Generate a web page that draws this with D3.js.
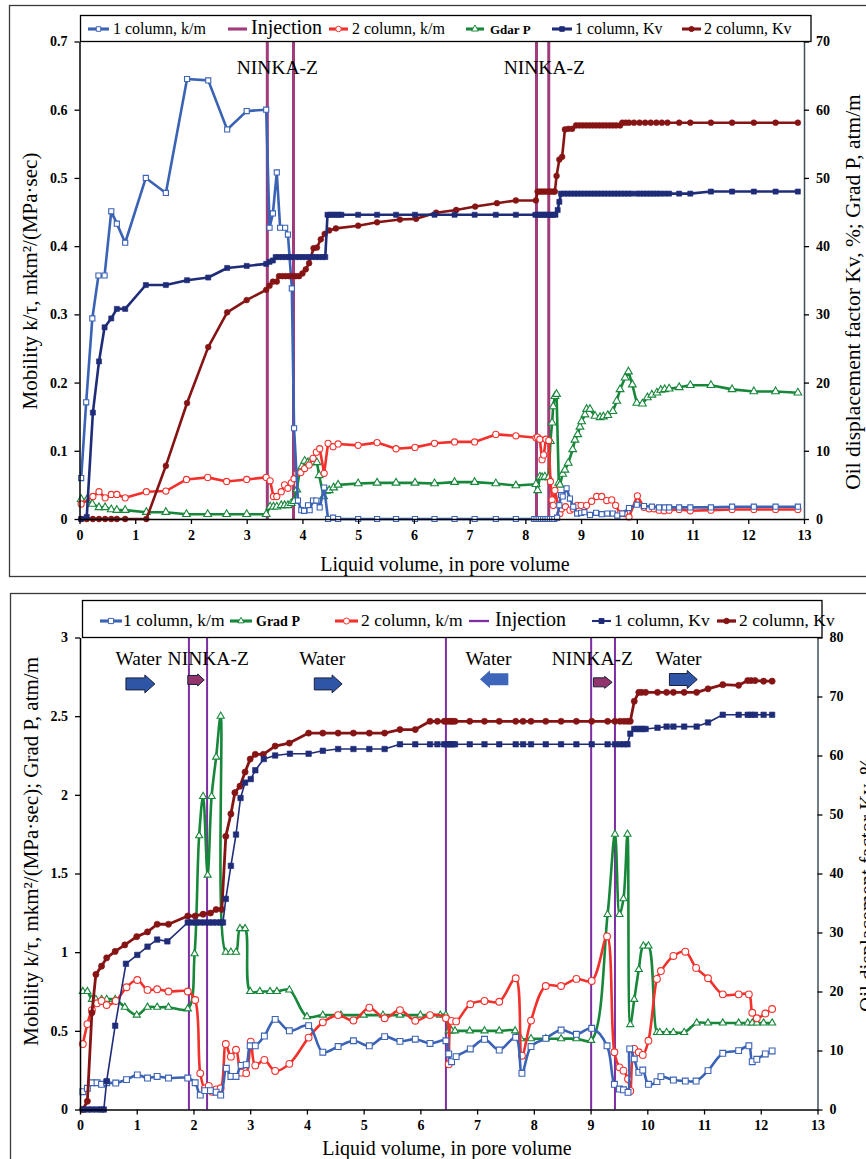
<!DOCTYPE html>
<html>
<head>
<meta charset="utf-8">
<script src="https://cdn.jsdelivr.net/npm/d3@7"></script>
<style>
  body { margin: 0; background: #fff; }
  svg text { font-family: "Liberation Serif", "Times New Roman", serif; fill: #000; }
</style>
</head>
<body>
<div id="chart"></div>
<script>
// ---------- data: upper chart ([liquid volume, value]) ----------
const topKmCol1 = [[0.03,0.06],[0.12,0.171],[0.23,0.294],[0.34,0.357],[0.45,0.357],[0.57,0.451],[0.67,0.433],[0.82,0.405],[1.19,0.5],[1.55,0.478],[1.93,0.645],[2.31,0.643],[2.65,0.571],[3.0,0.598],[3.35,0.6],[3.41,0.427],[3.47,0.448],[3.54,0.508],[3.6,0.427],[3.69,0.427],[3.74,0.417],[3.81,0.338],[3.85,0.133],[3.92,0.027],[3.98,0.013],[4.03,0.012],[4.1,0.02],[4.13,0.013],[4.19,0.027],[4.25,0.027],[4.31,0.017],[4.39,0.046],[4.46,0],[4.55,0.002],[4.64,0],[5.0,0],[5.34,0],[5.68,0],[6.02,0],[6.37,0],[6.73,0],[7.09,0],[7.47,0],[7.83,0],[8.16,0],[8.2,0],[8.24,0],[8.28,0],[8.32,0],[8.36,0],[8.4,0],[8.44,0],[8.48,0],[8.52,0],[8.57,0.002],[8.61,0.02],[8.64,0.035],[8.67,0.033],[8.74,0.045],[8.8,0.03],[8.86,0.018],[8.93,0.008],[9.0,0.009],[9.06,0.01],[9.16,0.006],[9.27,0.009],[9.37,0.007],[9.47,0.008],[9.57,0.008],[9.65,0.005],[9.74,0.008],[9.86,0.016],[10.0,0.021],[10.13,0.019],[10.27,0.018],[10.4,0.017],[10.5,0.017],[10.58,0.017],[10.76,0.017],[10.96,0.017],[11.33,0.017],[11.71,0.018],[12.1,0.018],[12.49,0.018],[12.89,0.018]];

const topKmCol2 = [[0.03,0.022],[0.24,0.033],[0.35,0.04],[0.46,0.031],[0.57,0.036],[0.67,0.036],[0.82,0.031],[1.2,0.04],[1.55,0.041],[1.92,0.058],[2.3,0.061],[2.64,0.055],[3.0,0.058],[3.35,0.061],[3.42,0.056],[3.48,0.033],[3.54,0.033],[3.62,0.04],[3.68,0.05],[3.74,0.045],[3.8,0.053],[3.85,0.059],[3.9,0.067],[3.97,0.068],[4.04,0.074],[4.12,0.079],[4.19,0.089],[4.25,0.098],[4.31,0.103],[4.39,0.067],[4.46,0.111],[4.55,0.106],[4.64,0.11],[5.0,0.108],[5.34,0.112],[5.68,0.103],[6.02,0.105],[6.37,0.111],[6.73,0.113],[7.09,0.113],[7.47,0.124],[7.83,0.122],[8.19,0.119],[8.22,0.12],[8.26,0.117],[8.3,0.087],[8.33,0.094],[8.37,0.117],[8.42,0.115],[8.45,0.055],[8.48,0.028],[8.5,0.02],[8.53,0.042],[8.62,0.008],[8.65,0.015],[8.72,0.018],[8.8,0.013],[8.86,0.015],[8.93,0.02],[9.0,0.02],[9.1,0.02],[9.19,0.026],[9.28,0.033],[9.37,0.033],[9.46,0.027],[9.55,0.028],[9.62,0.02],[9.7,0.008],[9.78,0.008],[9.86,0.003],[10.01,0.034],[10.13,0.017],[10.22,0.015],[10.31,0.015],[10.4,0.013],[10.49,0.012],[10.58,0.013],[10.76,0.014],[10.96,0.012],[11.33,0.013],[11.71,0.014],[12.1,0.014],[12.49,0.014],[12.89,0.014]];

// right axis (atm/m shown on the 0-70 scale)
const topGradP = [[0.03,2.9],[0.13,2.8],[0.23,2.2],[0.35,1.7],[0.46,1.7],[0.57,1.4],[0.67,1.3],[0.82,1.3],[1.2,1.0],[1.55,1.0],[1.92,0.7],[2.3,0.7],[2.64,0.7],[3.0,0.7],[3.35,0.7],[3.42,1.8],[3.48,1.8],[3.54,1.8],[3.62,2.0],[3.68,2.0],[3.74,2.0],[3.8,2.3],[3.85,2.6],[3.9,4.3],[3.95,7.0],[3.99,7.7],[4.04,8.5],[4.1,8.3],[4.14,8.3],[4.2,8.3],[4.26,8.3],[4.3,6.4],[4.38,3.3],[4.43,4.1],[4.48,4.2],[4.56,4.6],[4.64,5.0],[5.0,5.2],[5.34,5.3],[5.68,5.3],[6.02,5.3],[6.37,5.2],[6.73,5.4],[7.09,5.4],[7.47,5.2],[7.83,4.9],[8.19,5.1],[8.22,4.2],[8.26,6.2],[8.3,6.1],[8.35,6.2],[8.42,6.1],[8.45,11.4],[8.48,14.1],[8.5,16.5],[8.53,18.0],[8.56,18.3],[8.6,5.3],[8.62,5.0],[8.67,6.6],[8.71,7.2],[8.77,8.2],[8.85,10.2],[8.89,11.6],[8.94,12.4],[8.98,13.5],[9.01,14.3],[9.07,15.3],[9.1,16.1],[9.16,16.1],[9.25,15.1],[9.34,14.9],[9.4,15.0],[9.48,15.2],[9.57,15.8],[9.64,17.3],[9.7,19.0],[9.79,20.7],[9.85,21.6],[9.92,19.7],[10.0,17.0],[10.1,16.9],[10.19,17.8],[10.27,18.2],[10.36,18.5],[10.43,18.9],[10.5,19.0],[10.58,19.1],[10.76,19.3],[10.96,19.6],[11.33,19.6],[11.71,19.0],[12.1,18.7],[12.49,18.7],[12.89,18.5]];

const topKvCol1 = [[0.03,0],[0.13,0.3],[0.24,15.6],[0.35,23.1],[0.45,28.1],[0.57,29.4],[0.67,30.8],[0.82,30.8],[1.19,34.3],[1.55,34.3],[1.93,35.0],[2.31,35.4],[2.65,36.8],[3.0,37.1],[3.35,37.4],[3.41,37.7],[3.47,37.9],[3.52,38.4],[3.58,38.4],[3.64,38.4],[3.7,38.4],[3.76,38.4],[3.82,38.4],[3.88,38.4],[3.94,38.4],[4.0,38.4],[4.06,38.4],[4.12,38.4],[4.18,38.4],[4.24,38.4],[4.3,38.4],[4.36,38.4],[4.41,38.4],[4.45,44.6],[4.5,44.6],[4.55,44.6],[4.6,44.6],[4.65,44.6],[4.7,44.6],[5.0,44.6],[5.34,44.6],[5.68,44.6],[6.02,44.6],[6.37,44.6],[6.73,44.6],[7.09,44.6],[7.47,44.6],[7.83,44.6],[8.18,44.6],[8.22,44.6],[8.26,44.6],[8.3,44.6],[8.34,44.6],[8.38,44.6],[8.42,44.6],[8.46,44.6],[8.5,44.6],[8.54,44.6],[8.58,45.3],[8.61,46.5],[8.64,47.7],[8.7,47.7],[8.76,47.7],[8.82,47.7],[8.88,47.7],[8.94,47.7],[9.0,47.7],[9.06,47.7],[9.12,47.7],[9.18,47.7],[9.24,47.7],[9.3,47.7],[9.36,47.7],[9.42,47.7],[9.48,47.7],[9.54,47.7],[9.6,47.7],[9.66,47.7],[9.72,47.7],[9.78,47.7],[9.84,47.7],[9.9,47.7],[10.0,47.7],[10.06,47.7],[10.12,47.7],[10.18,47.7],[10.24,47.7],[10.3,47.7],[10.36,47.7],[10.42,47.7],[10.5,47.7],[10.58,47.7],[10.76,47.7],[10.96,47.7],[11.33,48.0],[11.71,48.0],[12.1,48.0],[12.49,48.0],[12.89,48.0]];

const topKvCol2 = [[0.03,0],[0.13,0],[0.24,0],[0.35,0],[0.46,0],[0.57,0],[0.67,0],[0.82,0],[1.2,0],[1.55,7.8],[1.93,17.0],[2.31,25.2],[2.65,30.3],[3.0,32.1],[3.35,33.6],[3.41,34.2],[3.47,34.8],[3.54,34.8],[3.58,35.6],[3.64,35.6],[3.7,35.6],[3.76,35.6],[3.82,35.6],[3.88,35.6],[3.94,35.6],[4.0,36.0],[4.06,36.6],[4.12,37.5],[4.2,39.7],[4.26,39.8],[4.33,41.0],[4.4,41.8],[4.48,42.3],[4.6,42.6],[5.0,43.0],[5.34,43.5],[5.75,43.9],[6.04,44.0],[6.4,44.9],[6.76,45.3],[7.1,45.8],[7.49,46.3],[7.83,46.7],[8.19,46.7],[8.22,48.0],[8.26,48.0],[8.3,48.0],[8.34,48.0],[8.38,48.0],[8.42,48.0],[8.46,48.0],[8.5,48.0],[8.53,48.0],[8.56,50.3],[8.61,52.7],[8.66,53.1],[8.71,57.1],[8.77,57.2],[8.84,57.2],[8.91,57.7],[8.97,57.7],[9.03,57.7],[9.09,57.7],[9.15,57.7],[9.21,57.7],[9.27,57.7],[9.33,57.7],[9.39,57.7],[9.45,57.7],[9.51,57.7],[9.57,57.7],[9.63,57.7],[9.7,57.7],[9.74,58.1],[9.8,58.1],[9.86,58.1],[9.95,58.1],[10.05,58.1],[10.15,58.1],[10.25,58.1],[10.35,58.1],[10.45,58.1],[10.55,58.1],[10.76,58.1],[10.96,58.1],[11.33,58.1],[11.71,58.1],[12.1,58.1],[12.49,58.1],[12.89,58.1]];

const topInjection = [3.37, 3.84, 8.2, 8.42];
const topNotes = [{ text: "NINKA-Z", x: 3.55, y: 0.652 }, { text: "NINKA-Z", x: 8.34, y: 0.652 }];

// ---------- data: lower chart ----------
const botKmCol1 = [[0.05,0.113],[0.13,0.135],[0.21,0.17],[0.3,0.17],[0.38,0.16],[0.47,0.17],[0.63,0.168],[0.82,0.19],[1.01,0.22],[1.19,0.2],[1.36,0.21],[1.56,0.2],[1.9,0.2],[2.03,0.17],[2.12,0.092],[2.2,0.12],[2.3,0.12],[2.4,0.11],[2.48,0.092],[2.58,0.262],[2.66,0.21],[2.75,0.21],[2.84,0.28],[2.93,0.285],[3.0,0.405],[3.09,0.405],[3.25,0.467],[3.44,0.573],[3.69,0.5],[4.03,0.533],[4.28,0.364],[4.55,0.4],[4.82,0.437],[5.1,0.405],[5.37,0.463],[5.64,0.433],[5.91,0.447],[6.17,0.42],[6.45,0.437],[6.5,0.353],[6.55,0.304],[6.63,0.336],[6.88,0.385],[7.13,0.446],[7.39,0.378],[7.68,0.459],[7.79,0.23],[7.95,0.4],[8.21,0.452],[8.48,0.505],[8.75,0.478],[9.02,0.516],[9.29,0.405],[9.42,0.16],[9.51,0.13],[9.58,0.125],[9.66,0.109],[9.69,0.385],[9.77,0.321],[9.85,0.236],[9.92,0.251],[10.02,0.16],[10.17,0.177],[10.24,0.209],[10.46,0.187],[10.67,0.181],[10.86,0.181],[11.07,0.247],[11.33,0.357],[11.61,0.374],[11.79,0.405],[11.85,0.304],[11.93,0.319],[12.08,0.353],[12.2,0.372]];

const botKmCol2 = [[0.05,0.416],[0.13,0.543],[0.21,0.632],[0.3,0.675],[0.38,0.69],[0.47,0.664],[0.63,0.69],[0.82,0.777],[1.01,0.823],[1.19,0.76],[1.36,0.764],[1.56,0.75],[1.9,0.75],[2.03,0.696],[2.12,0.23],[2.2,0.135],[2.27,0.15],[2.33,0.113],[2.4,0.128],[2.48,0.135],[2.57,0.416],[2.66,0.336],[2.75,0.38],[2.84,0.234],[2.93,0.23],[3.01,0.431],[3.09,0.28],[3.25,0.315],[3.44,0.245],[3.69,0.29],[4.03,0.457],[4.28,0.554],[4.55,0.6],[4.82,0.566],[5.1,0.647],[5.37,0.58],[5.64,0.632],[5.91,0.564],[6.17,0.6],[6.45,0.58],[6.5,0.287],[6.55,0.563],[6.63,0.56],[6.88,0.669],[7.13,0.69],[7.39,0.685],[7.68,0.834],[7.79,0.342],[7.95,0.565],[8.21,0.785],[8.48,0.785],[8.75,0.83],[9.02,0.817],[9.29,1.1],[9.42,0.364],[9.51,0.268],[9.58,0.247],[9.66,0.194],[9.7,0.118],[9.77,0.385],[9.85,0.364],[9.92,0.347],[10.02,0.437],[10.17,0.83],[10.24,0.88],[10.46,0.976],[10.67,1.003],[10.86,0.9],[11.07,0.834],[11.33,0.732],[11.61,0.732],[11.79,0.732],[11.85,0.615],[11.93,0.58],[12.08,0.61],[12.2,0.639]];

const botGradP = [[0.05,0.75],[0.13,0.75],[0.21,0.7],[0.28,0.7],[0.38,0.7],[0.47,0.7],[0.62,0.7],[0.79,0.65],[1.0,0.6],[1.19,0.65],[1.36,0.65],[1.56,0.65],[1.9,0.64],[2.02,0.99],[2.1,1.74],[2.17,1.99],[2.25,1.49],[2.32,1.99],[2.4,2.24],[2.48,2.5],[2.57,1.0],[2.66,1.0],[2.75,1.0],[2.82,1.15],[2.91,1.15],[3.0,0.75],[3.17,0.75],[3.35,0.75],[3.47,0.75],[3.69,0.76],[4.0,0.59],[4.28,0.6],[4.6,0.6],[5.0,0.6],[5.34,0.6],[5.64,0.6],[6.0,0.6],[6.35,0.6],[6.45,0.6],[6.5,0.5],[6.55,0.5],[6.61,0.5],[6.87,0.5],[7.13,0.5],[7.39,0.5],[7.67,0.5],[7.77,0.45],[7.95,0.45],[8.21,0.45],[8.48,0.45],[8.75,0.45],[9.01,0.44],[9.3,1.24],[9.43,1.75],[9.51,1.24],[9.58,1.34],[9.65,1.75],[9.7,0.54],[9.77,0.7],[9.85,0.89],[9.93,1.04],[10.02,1.04],[10.17,0.49],[10.22,0.49],[10.34,0.49],[10.46,0.49],[10.65,0.49],[10.87,0.55],[11.07,0.55],[11.33,0.55],[11.61,0.55],[11.77,0.55],[11.85,0.55],[11.93,0.55],[12.05,0.55],[12.2,0.55]];

const botKvCol1 = [[0.05,0],[0.13,0],[0.21,0],[0.3,0],[0.38,0],[0.42,0],[0.47,4.8],[0.62,14.2],[0.81,24.7],[1.01,26.2],[1.19,27.6],[1.36,28.8],[1.54,28.5],[1.9,31.7],[1.98,31.7],[2.05,31.7],[2.12,31.7],[2.2,31.7],[2.27,31.7],[2.34,31.7],[2.41,31.7],[2.48,31.7],[2.52,31.7],[2.57,35.7],[2.66,41.3],[2.75,46.6],[2.83,52.8],[2.91,55.4],[3.01,56.0],[3.09,57.5],[3.24,59.4],[3.44,60.0],[3.7,60.3],[4.03,60.3],[4.28,60.8],[4.55,61.1],[4.82,61.1],[5.1,61.1],[5.37,61.1],[5.64,61.9],[5.91,61.9],[6.17,61.9],[6.3,61.9],[6.42,61.9],[6.46,61.9],[6.5,61.9],[6.54,61.9],[6.57,61.9],[6.61,61.9],[6.87,61.9],[7.13,61.9],[7.39,61.9],[7.68,61.9],[7.81,61.9],[7.95,61.9],[8.21,61.9],[8.48,61.9],[8.75,61.9],[9.02,61.9],[9.3,61.9],[9.43,61.9],[9.52,61.9],[9.59,61.9],[9.65,61.9],[9.7,63.7],[9.77,64.5],[9.82,64.5],[9.87,64.5],[9.92,64.5],[9.97,64.5],[10.18,64.7],[10.34,64.9],[10.46,64.9],[10.65,64.9],[10.87,64.9],[11.07,65.6],[11.33,66.9],[11.61,66.9],[11.77,66.9],[11.83,66.9],[11.9,66.9],[12.05,66.9],[12.2,66.9]];

const botKvCol2 = [[0.05,0],[0.13,1.4],[0.21,16.4],[0.28,22.9],[0.38,24.3],[0.47,25.7],[0.62,26.8],[0.79,27.9],[1.0,29.3],[1.19,30.1],[1.36,31.4],[1.56,31.4],[1.9,32.8],[2.03,32.8],[2.17,33.1],[2.3,33.3],[2.4,33.9],[2.5,33.9],[2.57,46.3],[2.66,50.1],[2.73,53.7],[2.82,54.8],[2.91,57.2],[3.0,59.4],[3.09,60.2],[3.23,60.2],[3.44,61.6],[3.69,62.1],[4.03,63.8],[4.28,63.8],[4.55,63.8],[4.82,63.8],[5.1,63.8],[5.37,63.8],[5.64,64.4],[5.91,64.4],[6.17,65.8],[6.3,65.8],[6.42,65.8],[6.46,65.8],[6.5,65.8],[6.54,65.8],[6.57,65.8],[6.61,65.8],[6.87,65.8],[7.13,65.8],[7.39,65.8],[7.68,65.8],[7.81,65.8],[7.95,65.8],[8.21,65.8],[8.48,65.8],[8.75,65.8],[9.02,65.8],[9.3,65.8],[9.43,65.8],[9.52,65.8],[9.59,65.8],[9.65,65.8],[9.7,65.8],[9.77,69.2],[9.85,70.7],[9.9,70.7],[9.97,70.7],[10.18,70.7],[10.34,70.7],[10.46,70.7],[10.65,70.7],[10.87,70.7],[11.07,71.3],[11.33,72.0],[11.61,71.9],[11.77,72.7],[11.83,72.7],[11.9,72.7],[12.05,72.6],[12.2,72.6]];

const botInjection = [1.92, 2.24, 6.45, 9.01, 9.43];
const botNotes = [
  { text: "Water", x: 1.03, y: 2.825 }, { text: "NINKA-Z", x: 2.26, y: 2.825 }, { text: "Water", x: 4.27, y: 2.825 },
  { text: "Water", x: 7.2, y: 2.825 }, { text: "NINKA-Z", x: 9.03, y: 2.825 }, { text: "Water", x: 10.55, y: 2.825 }
];
// flow arrows: from, to (liquid volume), level (left axis), kind
const botArrows = [
  { x1: 0.81, x2: 1.32, y: 2.705, kind: "water" },
  { x1: 1.9, x2: 2.19, y: 2.73, kind: "ninka" },
  { x1: 4.13, x2: 4.62, y: 2.705, kind: "water" },
  { x1: 7.55, x2: 7.05, y: 2.735, kind: "back" },
  { x1: 9.05, x2: 9.38, y: 2.715, kind: "ninka" },
  { x1: 10.39, x2: 10.88, y: 2.733, kind: "water" }
];

const xTicks = d3.range(0, 14);
const topLeftTicks = [0, 0.1, 0.2, 0.3, 0.4, 0.5, 0.6, 0.7];
const topRightTicks = [0, 10, 20, 30, 40, 50, 60, 70];
const botLeftTicks = [0, 0.5, 1, 1.5, 2, 2.5, 3];
const botRightTicks = [0, 10, 20, 30, 40, 50, 60, 70, 80];

// ---------- styles ----------
const col = {
  km1: "#3a62b5", km2: "#f2312c", grad: "#17873a", kv1: "#1f2c78", kv2: "#861414",
  injTop: "#a03c7c", injBot: "#7e2ea2"
};
const serif = '"Liberation Serif", "Times New Roman", serif';

const svg = d3.select("#chart").append("svg").attr("width", 866).attr("height", 1159);
svg.append("rect").attr("width", 866).attr("height", 1159).attr("fill", "#fff");

// panel frames
svg.append("rect").attr("x", 9.5).attr("y", 5.5).attr("width", 880).attr("height", 571)
  .attr("fill", "none").attr("stroke", "#3a3a3a").attr("stroke-width", 1.3);
svg.append("rect").attr("x", 10.5).attr("y", 593.5).attr("width", 880).attr("height", 620)
  .attr("fill", "none").attr("stroke", "#3a3a3a").attr("stroke-width", 1.3);

function addMarkers(g, pts, x, y, st) {
  const sym = d3.symbol().type(st.shape).size(st.size);
  g.selectAll("path.m").data(pts).enter().append("path").attr("class", "m")
    .attr("d", sym)
    .attr("transform", d => "translate(" + x(d[0]) + "," + y(d[1]) + ")")
    .attr("fill", st.hollow ? "#fff" : st.color)
    .attr("stroke", st.color).attr("stroke-width", st.hollow ? 1.1 : 0.6);
}

function addSeries(g, pts, x, y, st) {
  const line = d3.line().x(d => x(d[0])).y(d => y(d[1])).curve(st.curve || d3.curveLinear);
  const s = g.append("g");
  s.append("path").datum(pts).attr("d", line).attr("fill", "none")
    .attr("stroke", st.color).attr("stroke-width", st.width)
    .attr("stroke-linejoin", "round").attr("stroke-linecap", "round");
  addMarkers(s, pts, x, y, st);
}

function addAxes(g, x, yl, yr, leftTicks, rightTicks, leftFmt) {
  const [x0, x1] = x.range();
  const [y0, y1] = yl.range();
  const xa = g.append("g").attr("transform", "translate(0," + y0 + ")")
    .call(d3.axisBottom(x).tickValues(xTicks).tickSize(5).tickSizeOuter(0).tickPadding(6).tickFormat(d3.format("d")));
  const la = g.append("g").attr("transform", "translate(" + x0 + ",0)")
    .call(d3.axisLeft(yl).tickValues(leftTicks).tickSize(5).tickSizeOuter(0).tickPadding(7).tickFormat(leftFmt));
  const ra = g.append("g").attr("transform", "translate(" + x1 + ",0)")
    .call(d3.axisRight(yr).tickValues(rightTicks).tickSize(5).tickSizeOuter(0).tickPadding(7).tickFormat(d3.format("d")));
  [xa, la, ra].forEach(a => {
    a.selectAll("text").attr("font-family", serif).attr("font-size", 14).attr("font-weight", "bold").attr("fill", "#000");
    a.selectAll("line").attr("stroke", "#000").attr("stroke-width", 1.3);
    a.select(".domain").attr("stroke", "#000").attr("stroke-width", 1.5);
  });
  ra.select(".domain").attr("stroke", "#3f4f5c");
}

function addLegend(g, box, items, yText) {
  g.append("rect").attr("x", box[0]).attr("y", box[1]).attr("width", box[2] - box[0]).attr("height", box[3] - box[1])
    .attr("fill", "#fff").attr("stroke", "#000").attr("stroke-width", 1.3);
  items.forEach(it => {
    const ym = yText - 5;
    g.append("line").attr("x1", it.lx[0]).attr("x2", it.lx[1]).attr("y1", ym).attr("y2", ym)
      .attr("stroke", it.st.color).attr("stroke-width", it.st.width + 0.5);
    if (it.st.shape) {
      g.append("path").attr("d", d3.symbol().type(it.st.shape).size(it.st.size * 0.8)())
        .attr("transform", "translate(" + (it.lx[0] + it.lx[1]) / 2 + "," + ym + ")")
        .attr("fill", it.st.hollow ? "#fff" : it.st.color).attr("stroke", it.st.color).attr("stroke-width", 1);
    }
    g.append("text").attr("x", it.tx).attr("y", yText).attr("font-size", it.fs)
      .attr("font-weight", it.bold ? "bold" : "normal").text(it.label);
  });
}

// ---------- upper chart ----------
const xT = d3.scaleLinear().domain([0, 13]).range([79.5, 804]);
const yTL = d3.scaleLinear().domain([0, 0.7]).range([519, 41.5]);
const yTR = d3.scaleLinear().domain([0, 70]).range([519, 41.5]);
const gt = svg.append("g");

const stT = {
  km1: { color: col.km1, width: 2.6, shape: d3.symbolSquare, size: 26, hollow: true },
  km2: { color: col.km2, width: 2.6, shape: d3.symbolCircle, size: 30, hollow: true },
  grad: { color: col.grad, width: 2.6, shape: d3.symbolTriangle, size: 26, hollow: true },
  kv1: { color: col.kv1, width: 2.6, shape: d3.symbolSquare, size: 26, hollow: false },
  kv2: { color: col.kv2, width: 2.6, shape: d3.symbolCircle, size: 26, hollow: false },
  inj: { color: col.injTop, width: 2.6 }
};

gt.selectAll("line.inj").data(topInjection).enter().append("line").attr("class", "inj")
  .attr("x1", d => xT(d)).attr("x2", d => xT(d)).attr("y1", yTL(0.7)).attr("y2", yTL(0))
  .attr("stroke", col.injTop).attr("stroke-width", 3);

addSeries(gt, topGradP, xT, yTR, stT.grad);
addSeries(gt, topKmCol2, xT, yTL, stT.km2);
addSeries(gt, topKmCol1, xT, yTL, stT.km1);
addSeries(gt, topKvCol2, xT, yTR, stT.kv2);
addSeries(gt, topKvCol1, xT, yTR, stT.kv1);

addAxes(gt, xT, yTL, yTR, topLeftTicks, topRightTicks, d => d === 0 ? "0" : d3.format(".1f")(d));

gt.selectAll("text.note").data(topNotes).enter().append("text").attr("class", "note")
  .attr("x", d => xT(d.x)).attr("y", d => yTL(d.y)).attr("text-anchor", "middle")
  .attr("font-size", 19.5).text(d => d.text);

addLegend(gt, [80.5, 15.5, 811, 41.5], [
  { lx: [88, 109], tx: 113, fs: 16, label: "1 column, k/m", st: stT.km1 },
  { lx: [228, 247], tx: 251, fs: 20, label: "Injection", st: stT.inj },
  { lx: [329, 348], tx: 352, fs: 16, label: "2 column, k/m", st: stT.km2 },
  { lx: [466, 484], tx: 490, fs: 13, label: "Gdar P", bold: true, st: stT.grad },
  { lx: [552, 572], tx: 575, fs: 16, label: "1 column, Kv", st: stT.kv1 },
  { lx: [682, 701], tx: 704, fs: 16, label: "2 column, Kv", st: stT.kv2 }
], 34);

gt.append("text").attr("x", 445).attr("y", 571).attr("text-anchor", "middle").attr("font-size", 20)
  .text("Liquid volume, in pore volume");
gt.append("text").attr("transform", "translate(37,281) rotate(-90)").attr("text-anchor", "middle")
  .attr("font-size", 21).text("Mobility k/τ, mkm²/(MPa·sec)");
gt.append("text").attr("transform", "translate(860,292) rotate(-90)").attr("text-anchor", "middle")
  .attr("font-size", 21.5).text("Oil displacement factor Kv, %; Grad P, atm/m");

// ---------- lower chart ----------
const xB = d3.scaleLinear().domain([0, 13]).range([80, 817.5]);
const yBL = d3.scaleLinear().domain([0, 3]).range([1109.5, 637.5]);
const yBR = d3.scaleLinear().domain([0, 80]).range([1109.5, 637.5]);
const gb = svg.append("g");

const smooth = d3.curveCatmullRom.alpha(0.5);
const stB = {
  km1: { color: col.km1, width: 2.6, shape: d3.symbolSquare, size: 34, hollow: true, curve: smooth },
  km2: { color: col.km2, width: 2.6, shape: d3.symbolCircle, size: 36, hollow: true, curve: smooth },
  grad: { color: col.grad, width: 2.6, shape: d3.symbolTriangle, size: 22, hollow: true, curve: smooth },
  kv1: { color: col.kv1, width: 1.6, shape: d3.symbolSquare, size: 30, hollow: false },
  kv2: { color: col.kv2, width: 2.8, shape: d3.symbolCircle, size: 30, hollow: false },
  inj: { color: col.injBot, width: 1.8 }
};

gb.selectAll("line.inj").data(botInjection).enter().append("line").attr("class", "inj")
  .attr("x1", d => xB(d)).attr("x2", d => xB(d)).attr("y1", yBL(3)).attr("y2", yBL(0))
  .attr("stroke", col.injBot).attr("stroke-width", 2);

addSeries(gb, botGradP, xB, yBL, stB.grad);
addSeries(gb, botKmCol2, xB, yBL, stB.km2);
addSeries(gb, botKmCol1, xB, yBL, stB.km1);
addSeries(gb, botKvCol2, xB, yBR, stB.kv2);
addSeries(gb, botKvCol1, xB, yBR, stB.kv1);

addAxes(gb, xB, yBL, yBR, botLeftTicks, botRightTicks, d3.format("~g"));

gb.selectAll("text.note").data(botNotes).enter().append("text").attr("class", "note")
  .attr("x", d => xB(d.x)).attr("y", d => yBL(d.y)).attr("text-anchor", "middle")
  .attr("font-size", 19.5).text(d => d.text);

const arrowFill = { water: "#2f56a6", back: "#3d66bb", ninka: "#93356d" };
botArrows.forEach(a => {
  const xa = xB(a.x1), xe = xB(a.x2), yc = yBL(a.y);
  const dir = xe > xa ? 1 : -1;
  const len = Math.abs(xe - xa);
  const hh = a.kind === "ninka" ? 6 : 9;       // half height of head
  const bh = a.kind === "ninka" ? 4.5 : 6;     // half height of body
  const head = Math.min(10, len * 0.4);
  const xn = xe - dir * head;
  const p = d3.path();
  p.moveTo(xa, yc - bh); p.lineTo(xn, yc - bh); p.lineTo(xn, yc - hh); p.lineTo(xe, yc);
  p.lineTo(xn, yc + hh); p.lineTo(xn, yc + bh); p.lineTo(xa, yc + bh); p.closePath();
  gb.append("path").attr("d", p.toString()).attr("fill", arrowFill[a.kind])
    .attr("stroke", a.kind === "back" ? "none" : "#1a1f3a").attr("stroke-width", 1);
});

addLegend(gb, [82.5, 600.5, 822, 637.5], [
  { lx: [100, 122], tx: 123, fs: 17.5, label: "1 column, k/m", st: stB.km1 },
  { lx: [230, 252], tx: 256, fs: 14, label: "Grad P", bold: true, st: stB.grad },
  { lx: [335, 358], tx: 361, fs: 17.5, label: "2 column, k/m", st: stB.km2 },
  { lx: [469, 489], tx: 495, fs: 20, label: "Injection", st: stB.inj },
  { lx: [592, 611], tx: 614, fs: 17.5, label: "1 column, Kv", st: stB.kv1 },
  { lx: [717, 736], tx: 739, fs: 17.5, label: "2 column, Kv", st: stB.kv2 }
], 626);

gb.append("text").attr("x", 447).attr("y", 1155).attr("text-anchor", "middle").attr("font-size", 20)
  .text("Liquid volume, in pore volume");
gb.append("text").attr("transform", "translate(38,657) rotate(-90)").attr("text-anchor", "end")
  .attr("font-size", 21).text("Mobility k/τ, mkm²/(MPa·sec); Grad P, atm/m");
gb.append("text").attr("transform", "translate(874,1012) rotate(-90)").attr("text-anchor", "start")
  .attr("font-size", 21).text("Oil displacement factor Kv, %");
</script>
</body>
</html>
